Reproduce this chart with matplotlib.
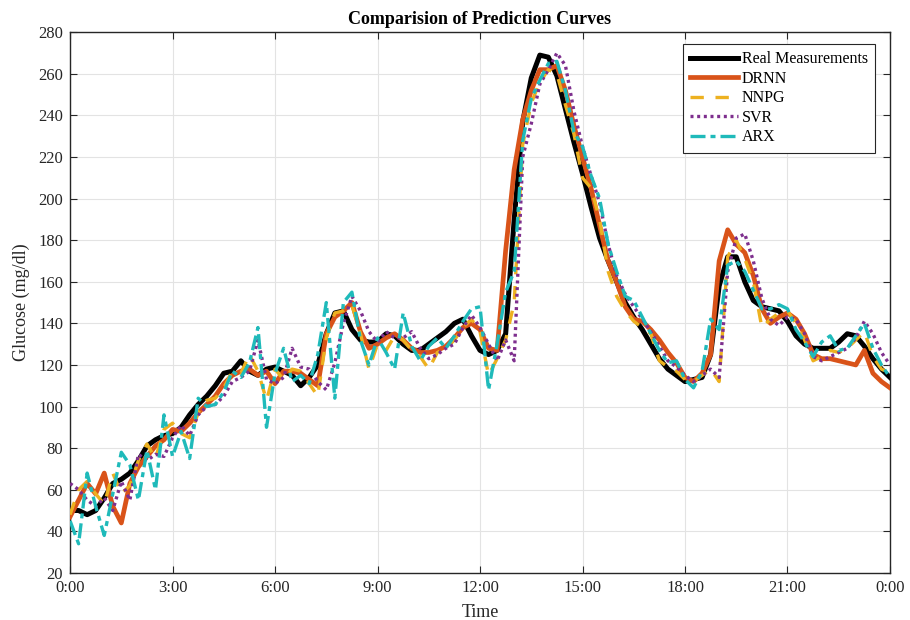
import numpy as np
import matplotlib
matplotlib.use("Agg")
import matplotlib.pyplot as plt

plt.rcParams['font.family'] = ['Liberation Serif', 'DejaVu Serif']

# time in hours (0.25 h step)
hours = np.arange(0, 24.01, 0.25)

real = [50, 50, 48, 50, 56, 63, 65, 68, 74, 81, 84, 86, 87, 90, 96, 101, 105,
        110, 116, 117, 122, 117, 115, 118, 119, 117, 115, 110, 114, 120, 135, 145, 146,
        137, 132, 131, 131, 135, 134, 130, 127, 127, 130, 133, 136, 140, 142, 134, 127,
        125, 127, 135, 190, 237, 258, 269, 268, 259, 243, 227, 212, 196, 181, 170, 160,
        150, 143, 137, 130, 123, 118, 115, 112, 113, 114, 125, 158, 172, 172, 160, 151,
        148, 147, 146, 141, 134, 130, 128, 128, 128, 131, 135, 134, 129, 123, 118, 114]

drnn = [47, 55, 63, 58, 68, 52, 44, 63, 71, 76, 81, 84, 89, 88, 92, 97, 101,
        105, 111, 115, 117, 118, 115, 117, 111, 117, 117, 116, 113, 110, 135, 143, 146,
        150, 136, 128, 130, 133, 135, 132, 128, 126, 126, 127, 129, 133, 138, 140, 137,
        128, 127, 175, 214, 238, 252, 262, 262, 264, 252, 235, 220, 205, 187, 170, 160,
        148, 142, 141, 137, 132, 126, 121, 114, 112, 116, 125, 170, 185, 178, 174, 163,
        147, 140, 143, 145, 142, 135, 125, 123, 123, 122, 121, 120, 127, 116, 112, 109]

nnpg = [48, 60, 64, 58, 53, 68, 58, 62, 74, 82, 75, 89, 92, 87, 85, 97, 103,
        104, 109, 117, 116, 125, 117, 103, 118, 113, 118, 117, 111, 105, 133, 145, 146,
        149, 135, 118, 130, 127, 134, 132, 127, 124, 118, 126, 128, 132, 138, 142, 136,
        115, 123, 132, 150, 226, 246, 256, 262, 260, 245, 231, 210, 205, 190, 165, 153,
        146, 141, 138, 135, 122, 119, 117, 113, 112, 115, 118, 112, 172, 180, 171, 160,
        138, 142, 145, 146, 140, 132, 122, 124, 127, 126, 128, 132, 136, 124, 118, 116]

svr = [63, 60, 55, 52, 56, 50, 64, 55, 77, 74, 77, 76, 85, 91, 86, 96, 100,
       101, 105, 112, 114, 117, 132, 113, 111, 114, 128, 119, 118, 112, 108, 121, 140,
       153, 146, 136, 131, 136, 133, 133, 136, 128, 123, 125, 128, 130, 138, 144, 138,
       130, 122, 132, 122, 220, 236, 255, 262, 270, 264, 242, 225, 211, 198, 178, 163,
       154, 148, 142, 136, 129, 122, 119, 115, 112, 115, 118, 114, 165, 181, 183, 170,
       152, 142, 139, 143, 142, 135, 124, 122, 124, 126, 128, 133, 141, 135, 126, 120]

arx = [45, 34, 68, 52, 38, 58, 78, 72, 55, 79, 60, 96, 76, 88, 75, 104, 100,
       101, 107, 117, 114, 121, 138, 90, 116, 128, 112, 115, 111, 125, 150, 104, 150,
       155, 132, 120, 133, 126, 118, 145, 129, 122, 129, 133, 128, 134, 141, 147, 148,
       108, 130, 155, 165, 228, 248, 257, 265, 266, 252, 232, 225, 211, 200, 178, 165,
       153, 151, 143, 135, 127, 121, 122, 113, 109, 117, 142, 137, 168, 170, 165, 156,
       147, 147, 149, 147, 137, 131, 124, 131, 134, 127, 128, 134, 140, 128, 120, 114]

xtick_pos = [0, 3, 6, 9, 12, 15, 18, 21, 24]
xtick_labels = ['0:00', '3:00', '6:00', '9:00', '12:00', '15:00', '18:00', '21:00', '0:00']
ytick_pos = list(range(20, 281, 20))

fig = plt.figure(figsize=(9.1, 6.2), dpi=100)
ax = fig.add_axes([0.077, 0.076, 0.901, 0.872])

ax.plot(hours, real, color='black', lw=3.6, label='Real Measurements', zorder=2,
        solid_joinstyle='round')
ax.plot(hours, drnn, color='#D95319', lw=3.4, label='DRNN', zorder=3,
        solid_joinstyle='round')
ax.plot(hours, nnpg, color='#EDB120', lw=2.4, ls=(0, (4, 3.5)), label='NNPG', zorder=4)
ax.plot(hours, svr, color='#7E2F8E', lw=2.4, ls=(0, (0.9, 1.1)), label='SVR', zorder=5)
ax.plot(hours, arx, color='#1FBABA', lw=2.4, ls=(0, (4.5, 1.5, 1.5, 1.5)), label='ARX', zorder=6)

ax.set_xlim(0, 24)
ax.set_ylim(20, 280)
ax.set_xticks(xtick_pos)
ax.set_xticklabels(xtick_labels)
ax.set_yticks(ytick_pos)
ax.tick_params(direction='in', top=True, right=True, labelsize=12, length=5,
               color='#262626', labelcolor='#262626', pad=5)
for s in ax.spines.values():
    s.set_color('#262626')
    s.set_linewidth(1.0)
ax.grid(True, color='#e3e3e3', lw=0.8)
ax.set_axisbelow(True)

ax.set_xlabel('Time', fontsize=13, color='#262626', labelpad=6)
ax.set_ylabel('Glucose (mg/dl)', fontsize=13, color='#262626', labelpad=6)
ax.set_title('Comparision of Prediction Curves', fontsize=13, fontweight='bold', pad=6)

leg = ax.legend(loc='upper right', bbox_to_anchor=(0.982, 0.978), fontsize=11.5,
                frameon=True, fancybox=False, edgecolor='#262626', framealpha=1,
                handlelength=3.0, handletextpad=0.25, labelspacing=0.22,
                borderpad=0.45, borderaxespad=0.0)
leg.get_frame().set_linewidth(0.8)

fig.savefig('out.png', dpi=100)
